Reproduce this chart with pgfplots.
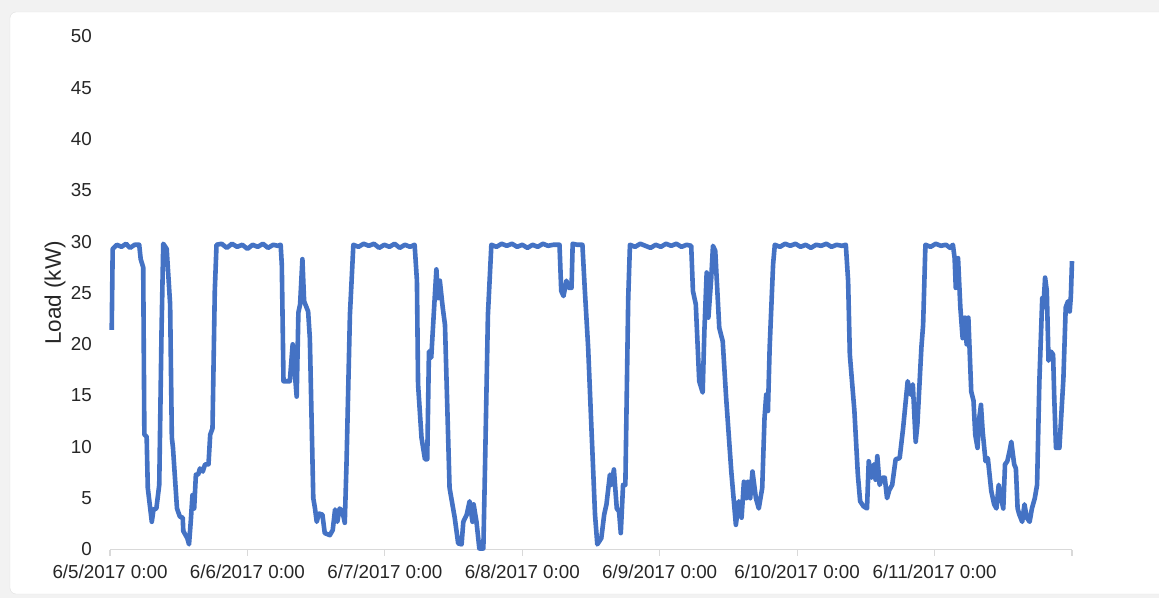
\documentclass[border=0pt]{standalone}
\usepackage{fontspec}
\setmainfont{Liberation Sans}
\usepackage{pgfplots}
\pgfplotsset{compat=1.18}
\definecolor{lineblue}{HTML}{4472C4}
\definecolor{axgray}{HTML}{D9D9D9}
\definecolor{txt}{HTML}{262626}
\definecolor{bg}{HTML}{F2F2F2}
\begin{document}
\begin{tikzpicture}
\useasboundingbox (0,0) rectangle (1159pt,598pt);
\fill[bg] (0,0) rectangle (1159pt,598pt);
\fill[white, draw=black!12, rounded corners=6pt] (10pt,4pt) rectangle (1175pt,586pt);
\begin{axis}[
  scale only axis,
  width=962pt, height=513pt,
  at={(110pt,48.5pt)}, anchor=south west,
  xmin=0, xmax=168, ymin=0, ymax=50,
  axis y line*=left,
  axis x line*=bottom,
  x axis line style={axgray, line width=1.2pt, -},
  y axis line style={draw=none, -},
  xtick={0,24,48,72,96,120,144,168},
  xticklabels={6/5/2017 0:00,6/6/2017 0:00,6/7/2017 0:00,6/8/2017 0:00,6/9/2017 0:00,6/10/2017 0:00,6/11/2017 0:00,},
  ytick={0,5,...,50},
  tick align=outside,
  major tick length=6pt,
  xtick style={axgray, line width=1.2pt},
  ytick style={draw=none},
  tick label style={font=\fontsize{18.8}{20}\selectfont, text=txt},
  xticklabel style={anchor=north, inner sep=0pt, yshift=-9.5pt},
  yticklabel style={anchor=east, inner sep=0pt, xshift=-12pt},
  /pgf/number format/assume math mode=true,
  ylabel={Load (kW)},
  ylabel style={font=\fontsize{22.5}{24}\selectfont, text=txt, at={(axis description cs:-0.057,0.5)}, anchor=center},
  clip=false,
]
\addplot[lineblue, line width=4.6pt, line join=round, mark=none] coordinates {
(0.3,21.4)(0.47,29.3)
(1.2,29.7)(2.0,29.5)(2.8,29.8)(3.5,29.4)(4.3,29.7)(5.1,29.7)
(5.36,28.3)(5.8,27.5)(6.0,11.2)(6.4,11.0)(6.6,6.0)(7.3,2.7)(7.6,3.9)(8.1,4.0)(8.6,6.3)(9.0,21.3)(9.3,29.8)(9.9,29.3)(10.5,23.9)(10.8,10.9)(11.0,9.9)(11.7,4.0)(12.2,3.2)(12.7,3.1)(12.8,1.8)(13.5,1.1)(13.8,0.5)(14.1,2.7)(14.4,5.3)(14.7,4.0)(15.0,7.3)(15.4,7.3)(15.7,7.9)(16.2,7.6)(16.6,8.3)(17.2,8.3)(17.5,11.2)(17.9,11.8)(18.3,25.2)(18.6,29.7)
(19.5,29.8)(20.4,29.4)(21.3,29.8)(22.2,29.5)(23.1,29.7)(24.0,29.3)(24.9,29.7)(25.8,29.5)(26.7,29.8)(27.6,29.4)(28.5,29.7)(29.3,29.6)(29.8,29.7)
(30.0,27.8)(30.3,16.4)(31.4,16.4)(31.9,20.0)(32.2,17.7)(32.6,14.9)(32.9,23.1)(33.2,23.9)(33.6,28.3)(33.9,24.2)(34.6,23.2)(34.9,20.6)(35.5,5.0)(35.8,4.0)(36.1,2.7)(36.5,3.5)(37.1,3.4)(37.5,1.6)(38.4,1.4)(38.9,1.9)(39.3,3.9)(39.7,2.7)(40.1,4.0)(40.6,3.7)(41.0,2.6)(41.3,8.3)(41.9,22.9)(42.5,29.7)
(43.4,29.5)(44.3,29.8)(45.2,29.6)(46.1,29.8)(47.0,29.4)(47.9,29.7)(48.8,29.5)(49.7,29.8)(50.6,29.4)(51.5,29.7)(52.4,29.5)(53.2,29.7)
(53.6,26.2)(53.8,16.1)(54.4,10.9)(55.0,8.8)(55.4,8.8)(55.7,19.3)(56.1,18.7)(56.7,24.5)(57.0,27.3)(57.3,24.5)(57.6,26.2)(58.1,23.6)(58.5,21.9)(59.3,6.0)(60.2,3.1)(60.8,0.6)(61.4,0.5)(61.7,2.7)(62.3,3.4)(62.8,4.7)(63.3,2.7)(63.5,4.4)(64.0,2.7)(64.5,0.1)(65.2,0.1)(65.5,8.3)(66.0,22.9)(66.6,29.7)
(67.5,29.5)(68.4,29.8)(69.3,29.6)(70.2,29.8)(71.1,29.5)(72.0,29.7)(72.9,29.4)(73.8,29.7)(74.7,29.5)(75.6,29.8)(76.5,29.6)(77.4,29.7)(78.5,29.7)
(78.8,25.2)(79.2,24.7)(79.7,26.2)(80.1,25.5)(80.6,25.5)(80.8,29.8)(81.6,29.7)(82.5,29.7)
(82.9,25.5)(83.5,19.7)(84.1,11.5)(84.7,3.4)(85.1,0.5)(85.8,1.1)(86.3,3.4)(86.7,4.4)(87.3,7.3)(87.6,6.3)(88.0,7.8)(88.5,4.0)(88.9,3.7)(89.2,1.6)(89.6,6.3)(90.0,6.3)(90.5,24.5)(90.8,29.7)
(91.7,29.5)(92.6,29.8)(93.5,29.6)(94.4,29.4)(95.3,29.7)(96.2,29.5)(97.1,29.8)(98.0,29.6)(98.9,29.8)(99.8,29.5)(100.7,29.7)(101.5,29.6)
(101.8,25.2)(102.3,23.9)(102.9,16.4)(103.5,15.3)(103.8,21.3)(104.2,27.0)(104.5,22.6)(105.0,26.5)(105.3,29.6)(105.7,29.1)(106.4,21.6)(107.0,20.3)(107.6,14.8)(108.5,7.6)(109.3,2.4)(109.8,4.7)(110.3,3.1)(110.7,6.6)(111.1,5.0)(111.4,6.6)(111.8,5.0)(112.2,7.6)(112.8,5.0)(113.3,4.0)(113.9,6.0)(114.3,12.8)(114.6,15.1)(114.9,13.5)(115.2,19.7)(115.8,27.8)(116.1,29.7)
(117.0,29.5)(117.9,29.8)(118.8,29.6)(119.7,29.8)(120.6,29.5)(121.5,29.7)(122.4,29.4)(123.3,29.7)(124.2,29.6)(125.1,29.8)(126.0,29.5)(126.9,29.7)(127.8,29.6)(128.5,29.7)
(128.9,26.2)(129.2,19.0)(130.0,13.5)(130.6,7.3)(131.0,4.7)(131.6,4.2)(132.2,4.0)(132.5,8.6)(133.0,7.0)(133.4,8.3)(133.7,6.8)(134.0,9.1)(134.4,6.3)(134.9,7.0)(135.3,7.0)(135.7,5.0)(136.1,5.8)(136.6,6.3)(137.2,8.8)(137.9,8.9)(138.5,11.8)(138.9,14.1)(139.3,16.4)(139.8,15.1)(140.2,16.1)(140.7,10.5)(141.0,12.2)(141.7,19.7)(142.0,21.9)(142.4,29.7)
(143.3,29.5)(144.2,29.8)(145.1,29.6)(146.0,29.7)(146.7,29.4)(147.2,29.7)
(147.5,28.4)(147.7,25.5)(148.1,28.4)(148.5,23.6)(148.9,20.6)(149.3,22.6)(149.6,20.0)(149.9,22.6)(150.4,15.4)(150.8,14.5)(151.1,11.2)(151.5,9.9)(151.8,12.8)(152.1,14.1)(152.4,11.5)(152.9,8.6)(153.3,8.9)(153.9,5.7)(154.4,4.4)(154.8,4.0)(155.2,6.3)(155.6,5.0)(156.0,4.0)(156.3,8.3)(156.7,8.6)(157.1,9.6)(157.4,10.5)(157.9,8.3)(158.2,7.9)(158.5,4.0)(158.8,3.4)(159.3,2.7)(159.7,4.4)(160.1,3.1)(160.6,2.7)(161.0,4.0)(161.5,5.0)(161.9,6.3)(162.3,16.4)(162.8,24.5)(163.0,23.6)(163.3,26.5)(163.6,25.2)(163.9,18.4)(164.3,19.3)(164.7,19.0)(164.9,14.8)(165.2,9.9)(165.8,9.9)(166.1,12.8)(166.5,16.7)(166.9,23.6)(167.3,24.2)(167.6,23.2)(167.8,24.7)(168.0,28.1)
};
\end{axis}
\end{tikzpicture}
\end{document}
